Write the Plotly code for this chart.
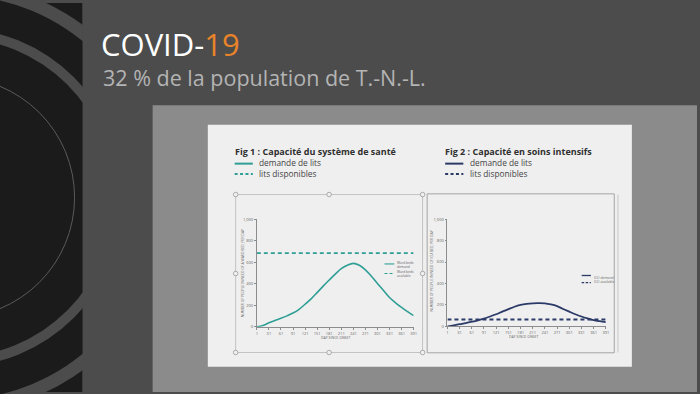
import plotly.graph_objects as go

# ---------------- data ----------------
days = [1, 16, 31, 46, 61, 76, 91, 106, 121, 136, 151, 166, 181, 196,
        211, 226, 241, 256, 271, 286, 301, 316, 331, 346, 361, 376, 391]
ward_demand = [0, 12, 38, 60, 79, 102, 128, 163, 210, 260, 318, 378, 435, 490,
               540, 573, 590, 572, 530, 470, 403, 338, 272, 223, 180, 141, 104]
icu_demand = [0, 9, 20, 30, 43, 56, 72, 92, 113, 137, 160, 183, 200, 210,
              215, 216, 214, 204, 188, 162, 137, 113, 92, 74, 58, 48, 40]
avail_days = [1, 391]
ward_available = [685, 685]
icu_available = [65, 65]

x_ticks = [1, 31, 61, 91, 121, 151, 181, 211, 241, 271, 301, 331, 361, 391]
y_ticks = [0, 200, 400, 600, 800, 1000]
y_ticklabels = ["0", "200", "400", "600", "800", "1,000"]

slide_title = "COVID-<span style='fill:#e8832a'>19</span>"
slide_subtitle = "32 % de la population de T.-N.-L."
fig1_title = "Fig 1 : Capacité du système de santé"
fig2_title = "Fig 2 : Capacité en soins intensifs"
legend_demand = "demande de lits"
legend_avail = "lits disponibles"

# ---------------- helpers (pixel -> paper) ----------------
W, H = 700, 394
def px(x):
    return x / W
def py(y):
    return 1 - y / H

TEAL = "#2f9f96"
NAVY = "#2c3a68"
BG = "#4c4c4c"
STRIP = "#1b1b1b"
BOX = "#8b8b8b"
PANEL = "#efefef"
FONT = "Open Sans"

fig = go.Figure()

fig.add_trace(go.Scatter(x=days, y=ward_demand, mode="lines", line=dict(color=TEAL, width=1.6, shape="spline"),
                         xaxis="x", yaxis="y", showlegend=False, hoverinfo="skip"))
fig.add_trace(go.Scatter(x=avail_days, y=ward_available, mode="lines", line=dict(color=TEAL, width=1.6, dash="4px,3px"),
                         xaxis="x", yaxis="y", showlegend=False, hoverinfo="skip"))
fig.add_trace(go.Scatter(x=days, y=icu_demand, mode="lines", line=dict(color=NAVY, width=1.8, shape="spline"),
                         xaxis="x2", yaxis="y2", showlegend=False, hoverinfo="skip"))
fig.add_trace(go.Scatter(x=avail_days, y=icu_available, mode="lines", line=dict(color=NAVY, width=2, dash="4px,3px"),
                         xaxis="x2", yaxis="y2", showlegend=False, hoverinfo="skip"))

axis_common = dict(showline=True, linecolor="#8c8c8c", linewidth=0.8, ticks="outside", ticklen=2,
                   tickcolor="#8c8c8c", tickwidth=0.6, showgrid=False, zeroline=False,
                   tickfont=dict(size=4, color="#666", family=FONT), fixedrange=True)

shapes = []
# background strip with concentric rings
cx, cy = -48, 197
shapes.append(dict(type="rect", xref="paper", yref="paper", x0=0, x1=px(82), y0=0, y1=1,
                   fillcolor=STRIP, line=dict(width=0), layer="below"))
for r, col in [(218, BG), (205, STRIP), (172, BG), (162, STRIP)]:
    shapes.append(dict(type="circle", xref="paper", yref="paper",
                       x0=px(cx - r), x1=px(cx + r), y0=py(cy + r), y1=py(cy - r),
                       fillcolor=col, line=dict(width=0), layer="below"))
shapes.append(dict(type="circle", xref="paper", yref="paper",
                   x0=px(cx - 122), x1=px(cx + 122), y0=py(cy + 122), y1=py(cy - 122),
                   line=dict(color="#5a5a5a", width=1), layer="below"))
# cover right of strip
shapes.append(dict(type="rect", xref="paper", yref="paper", x0=px(82), x1=1, y0=0, y1=1,
                   fillcolor=BG, line=dict(width=0), layer="below"))
# gray box and white panel
shapes.append(dict(type="rect", xref="paper", yref="paper", x0=px(152.5), x1=1, y0=0, y1=py(103.5),
                   fillcolor=BOX, line=dict(width=0), layer="below"))
shapes.append(dict(type="rect", xref="paper", yref="paper", x0=px(208), x1=px(634.5), y0=py(368.3), y1=py(123.3),
                   fillcolor=PANEL, line=dict(width=0), layer="below"))
# chart frames
shapes.append(dict(type="rect", xref="paper", yref="paper", x0=px(236), x1=px(424), y0=py(354), y1=py(194),
                   line=dict(color="#b8b8b8", width=0.8), layer="below"))
shapes.append(dict(type="rect", xref="paper", yref="paper", x0=px(428.6), x1=px(616.8), y0=py(354.3), y1=py(193.3),
                   line=dict(color="#a4a4a4", width=1), layer="below"))
shapes.append(dict(type="line", xref="paper", yref="paper", x0=px(620.5), x1=px(620.5), y0=py(354), y1=py(194),
                   line=dict(color="#c8c8c8", width=1), layer="below"))
# selection handles
for hx, hy in [(236, 194), (330, 194), (424, 194), (236, 274), (424, 274), (236, 354), (330, 354), (424, 354)]:
    shapes.append(dict(type="circle", xref="paper", yref="paper", x0=px(hx - 2.3), x1=px(hx + 2.3),
                       y0=py(hy + 2.3), y1=py(hy - 2.3), fillcolor=PANEL,
                       line=dict(color="#9a9a9a", width=0.8), layer="above"))
# header legend samples
for x0, col in [(235, TEAL), (446.7, NAVY)]:
    shapes.append(dict(type="line", xref="paper", yref="paper", x0=px(x0), x1=px(x0 + 18.3),
                       y0=py(162.7), y1=py(162.7), line=dict(color=col, width=2)))
    shapes.append(dict(type="line", xref="paper", yref="paper", x0=px(x0), x1=px(x0 + 18.3),
                       y0=py(173.3), y1=py(173.3), line=dict(color=col, width=2, dash="3px,2.4px")))
# inner tiny legends
shapes.append(dict(type="line", xref="paper", yref="paper", x0=px(385.7), x1=px(395.5),
                   y0=py(264.3), y1=py(264.3), line=dict(color=TEAL, width=1.1)))
shapes.append(dict(type="line", xref="paper", yref="paper", x0=px(385.7), x1=px(395.5),
                   y0=py(274), y1=py(274), line=dict(color=TEAL, width=1.1, dash="3px,2px")))
shapes.append(dict(type="line", xref="paper", yref="paper", x0=px(584), x1=px(593.3),
                   y0=py(276), y1=py(276), line=dict(color=NAVY, width=1.3)))
shapes.append(dict(type="line", xref="paper", yref="paper", x0=px(584), x1=px(593.3),
                   y0=py(283.3), y1=py(283.3), line=dict(color=NAVY, width=1.3, dash="2.5px,1.5px")))

ann = []
def text(x, y, s, size, color, xanchor="left", yanchor="middle", angle=0, bold=False):
    ann.append(dict(x=px(x), y=py(y), xref="paper", yref="paper", text=(f"<b>{s}</b>" if bold else s),
                    showarrow=False, xanchor=xanchor, yanchor=yanchor, textangle=angle, borderpad=0,
                    font=dict(family=FONT, size=size, color=color), align="left"))

text(100, 41.5, slide_title, 31, "#ffffff")
text(101.5, 75.2, slide_subtitle, 21.5, "#b4b4b4")
text(234.5, 150, fig1_title, 9, "#303030", bold=True)
text(258.5, 167.6, legend_demand + "<br>" + legend_avail, 8.3, "#444444")
text(446, 150, fig2_title, 9, "#303030", bold=True)
text(470.5, 167.6, legend_demand + "<br>" + legend_avail, 8.3, "#444444")
# axis titles
text(242.7, 273.5, "NUMBER OF PEOPLE IN NEED OF A WARD BED, PER DAY", 3.4, "#666", xanchor="center", angle=-90)
text(336, 339, "DAY SINCE ONSET", 3.5, "#666", xanchor="center")
text(433.3, 271, "NUMBER OF PEOPLE IN NEED OF ICU BED, PER DAY", 3.4, "#666", xanchor="center", angle=-90)
text(526, 337.5, "DAY SINCE ONSET", 3.5, "#666", xanchor="center")
# inner legend text
text(396.8, 269.5, "Ward beds<br>demand<br>Ward beds<br>available", 3.3, "#666")
text(595, 279.6, "ICU demand<br>ICU available", 3.4, "#666")

fig.update_layout(
    width=W, height=H, margin=dict(l=0, r=0, t=0, b=0),
    paper_bgcolor=BG, plot_bgcolor="rgba(0,0,0,0)",
    showlegend=False,
    xaxis=dict(domain=[px(257.3), px(415)], range=[1, 391], tickvals=x_ticks, anchor="y", **axis_common),
    yaxis=dict(domain=[py(328), py(219)], range=[0, 1000], tickvals=y_ticks, ticktext=y_ticklabels,
               anchor="x", **axis_common),
    xaxis2=dict(domain=[px(449), px(608.3)], range=[1, 391], tickvals=x_ticks, anchor="y2", **axis_common),
    yaxis2=dict(domain=[py(327.5), py(219)], range=[0, 1000], tickvals=y_ticks, ticktext=y_ticklabels,
                anchor="x2", **axis_common),
    shapes=shapes,
    annotations=ann,
)

fig.write_html("out.html", config={"displayModeBar": False},
               post_script="document.body.style.margin='0';document.body.style.overflow='hidden';")
